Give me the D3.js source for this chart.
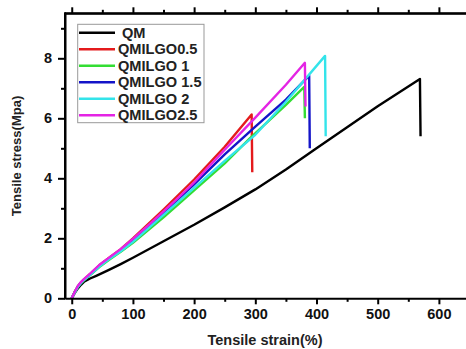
<!DOCTYPE html>
<html><head><meta charset="utf-8">
<script src="https://cdn.jsdelivr.net/npm/d3@7/dist/d3.min.js"></script>
<style>body{margin:0;background:#fff}svg{display:block}text{font-family:"Liberation Sans",Arial,sans-serif;font-weight:bold}</style>
</head><body><svg id="c" width="466" height="349"></svg>
<script>
const seriesNames = ["QM","QMILGO0.5","QMILGO 1","QMILGO 1.5","QMILGO 2","QMILGO2.5"];
const seriesColors = ["#000000","#e41a1c","#33dd33","#1414c8","#33e4ea","#e424e4"];
const strainQM  = [0,5,10,15,20,30,40,60,80,100,150,200,250,300,350,400,450,500,569,570];
const stressQM  = [0,0.18,0.33,0.45,0.55,0.66,0.75,0.94,1.14,1.35,1.9,2.45,3.03,3.63,4.29,5.0,5.7,6.4,7.31,5.4];
const strainG05 = [0,5,10,15,20,30,45,60,80,100,150,200,250,294,295];
const stressG05 = [0,0.22,0.4,0.53,0.63,0.81,1.1,1.34,1.64,2.0,2.96,3.96,5.05,6.13,4.2];
const strainG1  = [0,5,10,15,20,30,45,60,80,100,150,200,250,291,350,380,381];
const stressG1  = [0,0.2,0.38,0.5,0.6,0.77,1.04,1.27,1.55,1.85,2.7,3.6,4.5,5.33,6.45,7.05,6.0];
const strainG15 = [0,5,10,15,20,30,45,60,80,100,150,200,250,300,350,388,389];
const stressG15 = [0,0.21,0.39,0.52,0.62,0.79,1.08,1.31,1.6,1.93,2.85,3.8,4.8,5.72,6.62,7.42,5.0];
const strainG2  = [0,5,10,15,20,30,45,60,80,100,150,200,250,300,350,414,415];
const stressG2  = [0,0.2,0.38,0.51,0.61,0.78,1.06,1.29,1.57,1.88,2.78,3.68,4.58,5.45,6.55,8.08,5.4];
const strainG25 = [0,5,10,15,20,30,45,60,80,100,130,170,200,250,300,350,381,382];
const stressG25 = [0,0.22,0.41,0.54,0.64,0.82,1.11,1.34,1.64,1.98,2.52,3.27,3.86,4.95,6.02,7.12,7.85,6.39];
const xTicks = [0,100,200,300,400,500,600];
const xMinor = [50,150,250,350,450,550];
const yTicks = [0,2,4,6,8];
const yMinor = [1,3,5,7,9];
const xTitle = "Tensile strain(%)";
const yTitle = "Tensile stress(Mpa)";

const strains = [strainQM,strainG05,strainG1,strainG15,strainG2,strainG25];
const stresses = [stressQM,stressG05,stressG1,stressG15,stressG2,stressG25];

const svg = d3.select("#c");
const L = 65, T = 13.3, B = 298.3;
const x = d3.scaleLinear().domain([-11, 650]).range([L, 469.5]);
const y = d3.scaleLinear().domain([0, 9.5]).range([B, T]);

const line = d3.line().x(d=>x(d[0])).y(d=>y(d[1]));
strains.forEach((s,i)=>{
  const pts = s.map((v,j)=>[v, stresses[i][j]]);
  svg.append("path").attr("d", line(pts)).attr("fill","none")
    .attr("stroke", seriesColors[i]).attr("stroke-width", 2.4).attr("stroke-linejoin","round");
});

function styleAxis(g){
  g.selectAll(".domain").attr("stroke","#000").attr("stroke-width",2);
  g.selectAll(".tick line").attr("stroke","#000").attr("stroke-width",2);
  g.selectAll(".tick text").attr("font-size",14.5).attr("font-weight","bold").attr("fill","#111");
}
const gx = svg.append("g").attr("transform",`translate(0,${B})`)
  .call(d3.axisBottom(x).tickValues(xTicks).tickSize(6).tickPadding(4).tickSizeOuter(0));
styleAxis(gx);
svg.append("g").attr("transform",`translate(0,${B})`)
  .call(d3.axisBottom(x).tickValues(xMinor).tickSize(3.5).tickFormat("").tickSizeOuter(0))
  .call(g=>{g.select(".domain").remove(); g.selectAll("line").attr("stroke","#000").attr("stroke-width",2);});
const gt = svg.append("g").attr("transform",`translate(0,${T})`)
  .call(d3.axisTop(x).tickValues(xTicks).tickSize(6).tickFormat("").tickSizeOuter(0));
styleAxis(gt);
svg.append("g").attr("transform",`translate(0,${T})`)
  .call(d3.axisTop(x).tickValues(xMinor).tickSize(3.5).tickFormat("").tickSizeOuter(0))
  .call(g=>{g.select(".domain").remove(); g.selectAll("line").attr("stroke","#000").attr("stroke-width",2);});
const gy = svg.append("g").attr("transform",`translate(${L},0)`)
  .call(d3.axisLeft(y).tickValues(yTicks).tickSize(7).tickPadding(6).tickSizeOuter(0));
styleAxis(gy);
svg.append("g").attr("transform",`translate(${L},0)`)
  .call(d3.axisLeft(y).tickValues(yMinor).tickSize(4).tickFormat("").tickSizeOuter(0))
  .call(g=>{g.select(".domain").remove(); g.selectAll("line").attr("stroke","#000").attr("stroke-width",2);});
svg.append("line").attr("x1",L).attr("x2",466).attr("y1",T).attr("y2",T).attr("stroke","#000").attr("stroke-width",2);
svg.append("line").attr("x1",L).attr("x2",L).attr("y1",T-1).attr("y2",B+1).attr("stroke","#000").attr("stroke-width",2);

svg.append("text").attr("x",265).attr("y",345).attr("text-anchor","middle")
  .attr("font-size",14.5).attr("fill","#222").text(xTitle);
svg.append("text").attr("transform","translate(21,156) rotate(-90)").attr("text-anchor","middle")
  .attr("font-size",13).attr("fill","#222").text(yTitle);

const lg = svg.append("g");
lg.append("rect").attr("x",77.7).attr("y",24.3).attr("width",126.3).attr("height",98.4)
  .attr("fill","#fff").attr("stroke","#999").attr("stroke-width",1);
seriesNames.forEach((n,i)=>{
  const yy = 32.7 + i*16.5;
  lg.append("line").attr("x1",79).attr("x2",115).attr("y1",yy).attr("y2",yy)
    .attr("stroke",seriesColors[i]).attr("stroke-width",2.6);
  lg.append("text").attr("x", i===0?122:118).attr("y",yy).attr("dy","0.36em")
    .attr("font-size",14.6).attr("fill","#222").text(n);
});
</script></body></html>
